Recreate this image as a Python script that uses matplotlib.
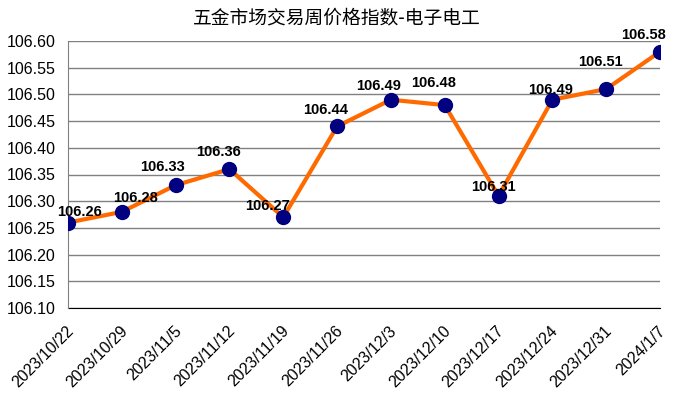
import matplotlib
matplotlib.use("Agg")
import matplotlib.pyplot as plt
from matplotlib.transforms import ScaledTranslation

dates = ["2023/10/22", "2023/10/29", "2023/11/5", "2023/11/12", "2023/11/19",
         "2023/11/26", "2023/12/3", "2023/12/10", "2023/12/17", "2023/12/24",
         "2023/12/31", "2024/1/7"]
values = [106.26, 106.28, 106.33, 106.36, 106.27, 106.44, 106.49, 106.48,
          106.31, 106.49, 106.51, 106.58]
yticks = [106.10, 106.15, 106.20, 106.25, 106.30, 106.35, 106.40, 106.45,
          106.50, 106.55, 106.60]
title = "五金市场交易周价格指数-电子电工"

# label offsets in pixels (dx, dy up)
label_offsets = [(11, 11), (14, 14), (-13, 18), (-11, 17), (-16, 11), (-11, 16),
                 (-12, 14), (-11, 22), (-5, 9), (-2, 10), (-6, 27), (-16, 17)]

plt.rcParams['font.family'] = ['Liberation Sans', 'DejaVu Sans']

fig = plt.figure(figsize=(6.73, 3.94), dpi=100)
ax = fig.add_axes([68/673, (394-308)/394, (660-68)/673, (308-41)/394])

x = list(range(len(values)))
ax.plot(x, values, color='#FF6A00', lw=3, zorder=3)
ax.plot(x, values, 'o', color='#000080', ms=10, zorder=4)

px2pt = 72/100
for xi, v, (dx, dy) in zip(x, values, label_offsets):
    ax.annotate(f"{v:.2f}", (xi, v), xytext=(dx*px2pt, dy*px2pt),
                textcoords='offset points', ha='center', va='center',
                fontsize=10.5, fontweight='bold', color='black', zorder=5)

ax.set_xlim(0, len(values)-1)
ax.set_ylim(yticks[0], yticks[-1])
ax.set_yticks(yticks)
ax.set_yticklabels([f"{t:.2f}" for t in yticks], fontsize=11.5)
ax.set_xticks(x)
ax.set_xticklabels(dates, rotation=45, ha='right', va='top',
                   rotation_mode='anchor', fontsize=11.5)
ax.tick_params(axis='x', length=0, pad=11)
ax.tick_params(axis='y', length=0, pad=9)
shift = ScaledTranslation(-2/100, 0, fig.dpi_scale_trans)
for lab in ax.get_xticklabels():
    lab.set_transform(lab.get_transform() + shift)
ax.grid(axis='y', color='#808080', lw=1)
ax.set_axisbelow(True)
for s in ['top', 'right']:
    ax.spines[s].set_visible(False)
ax.spines['left'].set_color('#808080')
ax.spines['bottom'].set_color('black')
ax.spines['bottom'].set_zorder(2)

fig.text(337/673, 1-18/394, title, ha='center', va='center', fontsize=13.5,
         family=['Noto Sans CJK SC', 'DejaVu Sans'])

fig.savefig("out.png", dpi=100)
